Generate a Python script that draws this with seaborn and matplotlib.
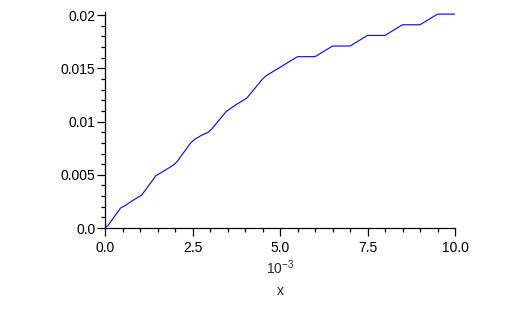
import matplotlib
matplotlib.use("Agg")
import matplotlib.pyplot as plt
import seaborn as sns
import pandas as pd
from matplotlib.ticker import MultipleLocator

# data (x in units of 1e-3)
x_vals = [0.0, 0.1, 0.45, 0.55, 0.75, 0.95, 1.05, 1.45, 1.55, 1.75, 1.95, 2.05,
          2.45, 2.55, 2.75, 2.95, 3.05, 3.45, 3.57, 3.75, 3.9, 4.05, 4.5, 4.6,
          5.0, 5.45, 5.5, 6.0, 6.05, 6.5, 7.0, 7.05, 7.5, 8.0, 8.05, 8.5, 9.0,
          9.05, 9.5, 10.0]
y_vals = [0.0, 0.0003, 0.0019, 0.00205, 0.0025, 0.0029, 0.0031, 0.0049, 0.0051,
          0.0055, 0.0059, 0.0062, 0.0080, 0.0083, 0.0087, 0.0090, 0.0093, 0.0109,
          0.0112, 0.0116, 0.0119, 0.0122, 0.0140, 0.0143, 0.0151, 0.0160, 0.0161,
          0.0161, 0.0162, 0.0171, 0.0171, 0.0172, 0.0181, 0.0181, 0.0182, 0.0191,
          0.0191, 0.0192, 0.0201, 0.0201]
y_ticks = [0.0, 0.005, 0.01, 0.015, 0.02]
y_tick_labels = ["0.0", "0.005", "0.01", "0.015", "0.02"]
x_ticks = [0.0, 2.5, 5.0, 7.5, 10.0]
x_tick_labels = ["0.0", "2.5", "5.0", "7.5", "10.0"]

sns.set_style("ticks")
plt.rcParams["font.family"] = ["Liberation Sans", "DejaVu Sans"]
plt.rcParams["mathtext.default"] = "regular"

fig = plt.figure(figsize=(5.18, 3.28), dpi=100)
ax = fig.add_axes([105/518, 1 - 228/328, 350/518, 216/328])

df = pd.DataFrame({"x": x_vals, "y": y_vals})
sns.lineplot(data=df, x="x", y="y", ax=ax, color="#0000ff", linewidth=0.8)

ax.set_xlim(0, 10)
ax.set_ylim(0, 0.0203)
ax.set_xticks(x_ticks)
ax.set_xticklabels(x_tick_labels)
ax.set_yticks(y_ticks)
ax.set_yticklabels(y_tick_labels)
ax.xaxis.set_minor_locator(MultipleLocator(0.5))
ax.yaxis.set_minor_locator(MultipleLocator(0.001))

for s in ["top", "right"]:
    ax.spines[s].set_visible(False)
for s in ["left", "bottom"]:
    ax.spines[s].set_color("black")
    ax.spines[s].set_linewidth(0.9)

ax.tick_params(axis="both", which="major", length=5.5, width=0.9, color="black",
               labelsize=10, labelcolor="black")
ax.tick_params(axis="both", which="minor", length=3.2, width=0.9, color="black")
ax.tick_params(axis="y", which="major", pad=1.5)
ax.tick_params(axis="x", which="major", pad=4)

ax.set_xlabel("")
ax.set_ylabel("")
fig.text(280/518, 1 - 268/328, r"10$^{-3}$", ha="center", va="center", fontsize=10)
fig.text(280/518, 1 - 291/328, "x", ha="center", va="center", fontsize=10)

fig.savefig("out.png", dpi=100)
